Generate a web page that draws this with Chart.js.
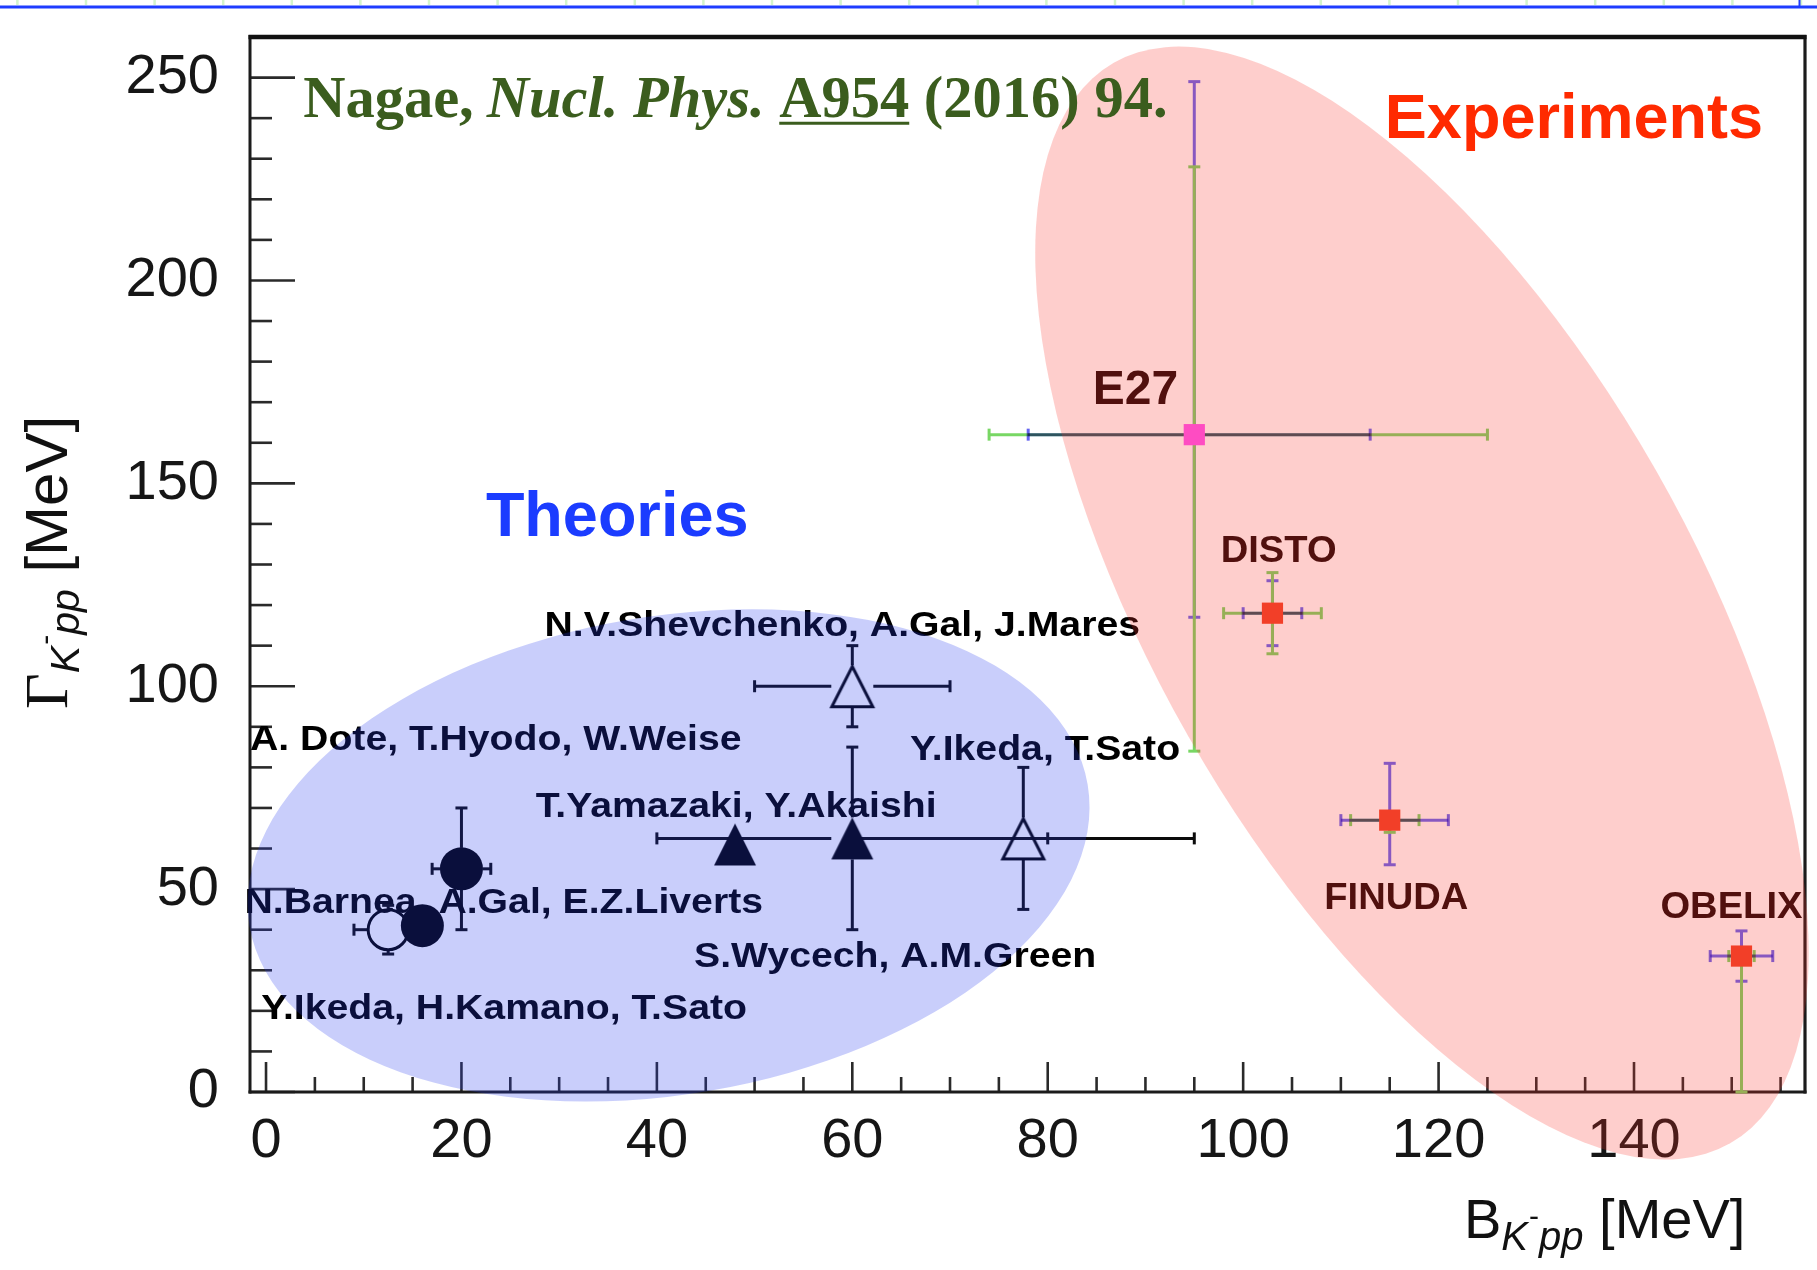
<!DOCTYPE html>
<html>
<head>
<meta charset="utf-8">
<title>K-pp binding energy and width</title>
<script src="https://cdn.jsdelivr.net/npm/chart.js@4.4.1/dist/chart.umd.min.js"></script>
<style>
  html, body { margin: 0; padding: 0; background: #ffffff; }
  canvas { display: block; }
</style>
</head>
<body>
<canvas id="chart" width="1817" height="1270"></canvas>
<script>
// ---- axis ranges and tick values (MeV) ----
const xRange = [-1.64, 157.5];
const yRange = [0, 260];
const xTickValues = [0, 20, 40, 60, 80, 100, 120, 140];
const yTickValues = [0, 50, 100, 150, 200, 250];
const xMinorStep = 5;
const yMinorStep = 10;

// ---- theoretical predictions: binding energy B, width Gamma, half-ranges ----
const theoryNames = ['A. Dote, T.Hyodo, W.Weise', 'N.Barnea, A.Gal, E.Z.Liverts', 'Y.Ikeda, H.Kamano, T.Sato',
                     'T.Yamazaki, Y.Akaishi', 'S.Wycech, A.M.Green', 'N.V.Shevchenko, A.Gal, J.Mares', 'Y.Ikeda, T.Sato'];
const theoryB        = [20, 16, 12.5, 48, 60, 60, 77.5];
const theoryGamma    = [55, 41, 40, 61, 62.5, 100, 62.5];
const theoryBErr     = [3, 0, 3.5, 0, 20, 10, 17.5];
const theoryGammaErr = [15, 0, 6, 0, 22.5, 10, 17.5];
const theoryMarker   = ['filledCircle', 'filledCircle', 'openCircle', 'filledTriangle', 'filledTriangle', 'openTriangle', 'openTriangle'];

// ---- experimental results: central values, stat and syst errors (low / high) ----
const exptNames        = ['E27', 'DISTO', 'FINUDA', 'OBELIX'];
const exptB            = [95, 103, 115, 151];
const exptGamma        = [162, 118, 67, 33.5];
const exptBStatLo      = [17, 3, 5, 3.2];
const exptBStatHi      = [18, 3, 6, 3.2];
const exptBSystLo      = [21, 5, 4, 1.3];
const exptBSystHi      = [30, 5, 3, 1.3];
const exptGammaStatLo  = [45, 8, 11, 6.2];
const exptGammaStatHi  = [87, 8, 14, 6.2];
const exptGammaSystLo  = [78, 10, 3, 33.5];
const exptGammaSystHi  = [66, 10, 2, 0];

// ---- text annotations, anchored in axis units (left edge, baseline) ----
const theoryLabelPos = [
  { x: -1.64, y: 84.2 },  // Dote
  { x: -2.2,  y: 44.0 },  // Barnea
  { x: -0.5,  y: 18.0 },  // Ikeda, Kamano
  { x: 27.6,  y: 67.8 },  // Yamazaki
  { x: 43.8,  y: 30.8 },  // Wycech
  { x: 28.5,  y: 112.5 }, // Shevchenko
  { x: 65.9,  y: 81.7 }   // Ikeda, Sato
];
const exptLabelPos = [
  { x: 84.6,  y: 169.6 }, // E27
  { x: 97.7,  y: 130.7 }, // DISTO
  { x: 108.3, y: 45.0 },  // FINUDA
  { x: 142.7, y: 42.8 }   // OBELIX
];

// shaded groupings (centre in axis units, radii in px, rotation in degrees)
const groupRegions = [
  { cx: 41.2,  cy: 58.3,  rx: 425, ry: 239, rot: -9.6, fill: 'rgba(40,60,240,0.25)' },
  { cx: 118.3, cy: 120.5, rx: 622, ry: 269, rot: 60.3, fill: 'rgba(250,50,40,0.24)' }
];

const SANS = '"Liberation Sans", Arial, Helvetica, sans-serif';
const SERIF = '"Liberation Serif", "Times New Roman", serif';

// ---- marker images for ROOT-like triangles (centred on their bounding box) ----
function triangleImage(size, filled, lw) {
  const pad = 3;
  const cv = document.createElement('canvas');
  cv.width = size + 2 * pad;
  cv.height = size + 2 * pad;
  const g = cv.getContext('2d');
  const s = size / 2, cx = cv.width / 2, cy = cv.height / 2;
  const inset = filled ? 0 : lw / 2;
  g.beginPath();
  g.moveTo(cx - s + inset, cy + s - inset);
  g.lineTo(cx + s - inset, cy + s - inset);
  g.lineTo(cx, cy - s + inset * 1.6);
  g.closePath();
  if (filled) { g.fillStyle = '#000'; g.fill(); }
  else { g.strokeStyle = '#000'; g.lineWidth = lw; g.lineJoin = 'miter'; g.stroke(); }
  return cv;
}
const triFilled = triangleImage(42, true, 0);
const triOpen = triangleImage(44, false, 3);

function theoryPoints(kind) {
  const pts = [];
  theoryB.forEach((b, i) => { if (theoryMarker[i] === kind) pts.push({ x: b, y: theoryGamma[i] }); });
  return pts;
}
const exptPoint = i => [{ x: exptB[i], y: exptGamma[i] }];

// ---- helpers ----
function seg(ctx, x1, y1, x2, y2) {
  ctx.beginPath(); ctx.moveTo(x1, y1); ctx.lineTo(x2, y2); ctx.stroke();
}
function drawRich(ctx, x, y, parts) {
  let cx = x;
  for (const p of parts) {
    ctx.font = p.font;
    ctx.fillStyle = p.color || ctx.fillStyle;
    const w = ctx.measureText(p.text).width;
    ctx.fillText(p.text, cx, y + (p.dy || 0));
    if (p.underline) {
      ctx.save();
      ctx.strokeStyle = p.color || ctx.fillStyle;
      ctx.lineWidth = p.underline.width;
      seg(ctx, cx, y + p.underline.offset, cx + w, y + p.underline.offset);
      ctx.restore();
    }
    cx += w + (p.gap || 0);
  }
  return cx - x;
}
function stretchedText(ctx, text, x, y, sx) {
  ctx.save();
  ctx.translate(x, y);
  ctx.scale(sx, 1);
  ctx.fillText(text, 0, 0);
  ctx.restore();
}

// ---- plugin: axis frame and inward ticks ----
const framePlugin = {
  id: 'frame',
  beforeDatasetsDraw(chart) {
    const { ctx, chartArea: a, scales: { x, y } } = chart;
    ctx.save();
    ctx.strokeStyle = '#2a2a2a';
    ctx.lineWidth = 2.6;
    // bottom axis ticks
    const xStart = Math.ceil(xRange[0] / xMinorStep), xEnd = Math.floor(xRange[1] / xMinorStep);
    for (let k = xStart; k <= xEnd; k++) {
      const v = k * xMinorStep;
      const px = x.getPixelForValue(v);
      const len = xTickValues.includes(v) ? 30 : 15;
      seg(ctx, px, a.bottom, px, a.bottom - len);
    }
    // left axis ticks
    const yStart = Math.ceil(yRange[0] / yMinorStep), yEnd = Math.floor(yRange[1] / yMinorStep);
    for (let k = yStart; k <= yEnd; k++) {
      const v = k * yMinorStep;
      const py = y.getPixelForValue(v);
      const len = yTickValues.includes(v) ? 45 : 22;
      seg(ctx, a.left, py, a.left + len, py);
    }
    // frame
    ctx.strokeStyle = '#1b1b1b';
    ctx.lineWidth = 3;
    seg(ctx, a.left, a.top - 2, a.left, a.bottom + 1.5);
    seg(ctx, a.left - 1.5, a.bottom, a.right + 1.5, a.bottom);
    ctx.lineWidth = 3.2;
    seg(ctx, a.right, a.top - 2, a.right, a.bottom + 1.5);
    ctx.strokeStyle = '#111';
    ctx.lineWidth = 4.5;
    seg(ctx, a.left - 1.5, a.top, a.right + 1.5, a.top);
    ctx.restore();
  }
};

// ---- plugin: error bars for theory ranges and experimental stat/syst errors ----
const errorBarPlugin = {
  id: 'errorBars',
  beforeDatasetsDraw(chart) {
    const { ctx, scales: { x, y } } = chart;
    const cap = 6;
    ctx.save();
    ctx.lineCap = 'butt';

    // theory: black bars that stop at the marker edge
    ctx.strokeStyle = '#0b0b0b';
    ctx.lineWidth = 3;
    const gap = 21;
    theoryB.forEach((b, i) => {
      const px = x.getPixelForValue(b), py = y.getPixelForValue(theoryGamma[i]);
      const ex = theoryBErr[i], ey = theoryGammaErr[i];
      if (ex > 0) {
        const l = x.getPixelForValue(b - ex), r = x.getPixelForValue(b + ex);
        if (px - l > gap) { seg(ctx, l, py, px - gap, py); seg(ctx, l, py - cap, l, py + cap); }
        if (r - px > gap) { seg(ctx, px + gap, py, r, py); seg(ctx, r, py - cap, r, py + cap); }
      }
      if (ey > 0) {
        const t = y.getPixelForValue(theoryGamma[i] + ey), btm = y.getPixelForValue(theoryGamma[i] - ey);
        if (py - t > gap) { seg(ctx, px, t, px, py - gap); seg(ctx, px - cap, t, px + cap, t); }
        if (btm - py > gap) { seg(ctx, px, py + gap, px, btm); seg(ctx, px - cap, btm, px + cap, btm); }
      }
    });

    // experiments: statistical (violet) and systematic (green)
    const statColor = 'rgb(100,100,240)';
    const systColor = 'rgb(120,215,100)';
    ctx.lineWidth = 3;
    exptB.forEach((b, i) => {
      const g = exptGamma[i];
      const px = x.getPixelForValue(b), py = y.getPixelForValue(g);
      const vbar = (lo, hi, color) => {
        const t = y.getPixelForValue(g + hi), btm = y.getPixelForValue(g - lo);
        ctx.strokeStyle = color;
        seg(ctx, px, t, px, btm);
        if (hi > 0) seg(ctx, px - cap, t, px + cap, t);
        if (lo > 0) seg(ctx, px - cap, btm, px + cap, btm);
      };
      const hbar = (lo, hi, color) => {
        const l = x.getPixelForValue(b - lo), r = x.getPixelForValue(b + hi);
        ctx.strokeStyle = color;
        seg(ctx, l, py, r, py);
        seg(ctx, l, py - cap, l, py + cap);
        seg(ctx, r, py - cap, r, py + cap);
      };
      vbar(exptGammaStatLo[i], exptGammaStatHi[i], statColor);
      vbar(exptGammaSystLo[i], exptGammaSystHi[i], systColor);
      hbar(exptBSystLo[i], exptBSystHi[i], systColor);
      ctx.save();
      ctx.globalCompositeOperation = 'multiply';
      hbar(exptBStatLo[i], exptBStatHi[i], statColor);
      ctx.restore();
    });
    ctx.restore();
  }
};

// ---- plugin: names, shaded groupings, headings, axis titles ----
const overlayPlugin = {
  id: 'overlay',
  afterDatasetsDraw(chart) {
    const { ctx, scales: { x, y } } = chart;
    ctx.save();
    ctx.textBaseline = 'alphabetic';
    ctx.textAlign = 'left';

    // theory author labels
    ctx.fillStyle = '#000';
    ctx.font = 'bold 35px ' + SANS;
    theoryNames.forEach((name, i) => {
      const p = theoryLabelPos[i];
      stretchedText(ctx, name, x.getPixelForValue(p.x), y.getPixelForValue(p.y), 1.12);
    });
    // experiment labels
    ctx.fillStyle = '#1c0606';
    exptNames.forEach((name, i) => {
      const p = exptLabelPos[i];
      ctx.font = (i === 0 ? 'bold 48px ' : 'bold 36px ') + SANS;
      stretchedText(ctx, name, x.getPixelForValue(p.x), y.getPixelForValue(p.y), i === 0 ? 1.0 : 1.06);
    });

    // translucent groupings laid over everything drawn so far
    groupRegions.forEach(r => {
      ctx.beginPath();
      ctx.ellipse(x.getPixelForValue(r.cx), y.getPixelForValue(r.cy), r.rx, r.ry, r.rot * Math.PI / 180, 0, 2 * Math.PI);
      ctx.fillStyle = r.fill;
      ctx.fill();
    });

    // headings
    ctx.font = 'bold 63px ' + SANS;
    ctx.fillStyle = '#1b3cff';
    ctx.fillText('Theories', x.getPixelForValue(22.5), y.getPixelForValue(137.0));
    ctx.fillStyle = '#ff2a00';
    ctx.fillText('Experiments', x.getPixelForValue(114.5), y.getPixelForValue(235.1));

    // reference
    const green = '#3b5d1e';
    const f = '58.5px ' + SERIF;
    drawRich(ctx, x.getPixelForValue(3.8), y.getPixelForValue(240.2), [
      { text: 'Nagae,', font: 'bold ' + f, color: green, gap: 13 },
      { text: 'Nucl. Phys.', font: 'italic bold ' + f, color: green },
      { text: ' ', font: 'bold ' + f, color: green },
      { text: 'A954', font: 'bold ' + f, color: green, underline: { offset: 6, width: 3 } },
      { text: ' (2016) 94.', font: 'bold ' + f, color: green }
    ]);
    ctx.restore();
  },
  afterDraw(chart) {
    const { ctx } = chart;
    ctx.save();
    ctx.fillStyle = '#111';
    ctx.textBaseline = 'alphabetic';
    ctx.textAlign = 'left';
    // x-axis title
    drawRich(ctx, 1464, 1238, [
      { text: 'B', font: '56px ' + SANS },
      { text: 'K', font: 'italic 40px ' + SANS, dy: 12, gap: 1 },
      { text: '-', font: '30px ' + SANS, dy: -12, gap: 0 },
      { text: 'pp', font: 'italic 40px ' + SANS, dy: 12 },
      { text: ' [MeV]', font: '56px ' + SANS }
    ]);
    // y-axis title
    ctx.translate(67, 709);
    ctx.rotate(-Math.PI / 2);
    drawRich(ctx, 0, 0, [
      { text: '\u0393', font: '62px ' + SERIF },
      { text: 'K', font: 'italic 41px ' + SANS, dy: 12, gap: 1 },
      { text: '-', font: '30px ' + SANS, dy: -12, gap: 0 },
      { text: 'pp', font: 'italic 41px ' + SANS, dy: 12 },
      { text: ' [MeV]', font: '60px ' + SANS }
    ]);
    ctx.restore();

    // page rule along the top edge
    ctx.save();
    ctx.strokeStyle = '#d4f5cc';
    ctx.lineWidth = 2.5;
    for (let k = 0; k < 27; k++) {
      const gx = 17.4 + k * 68.6;
      seg(ctx, gx, 0, gx, 5);
    }
    ctx.strokeStyle = '#1f3cff';
    ctx.lineWidth = 3;
    seg(ctx, 0, 7, 1817, 7);
    ctx.lineWidth = 2;
    seg(ctx, 1799.5, 0, 1799.5, 7);
    ctx.restore();
  }
};

const tickFont = { family: SANS, size: 56 };

new Chart(document.getElementById('chart'), {
  type: 'scatter',
  data: {
    datasets: [
      { label: 'theory (filled circle)', data: theoryPoints('filledCircle'), pointStyle: 'circle',
        pointRadius: 21.5, pointBackgroundColor: '#000', pointBorderWidth: 0 },
      { label: 'theory (open circle)', data: theoryPoints('openCircle'), pointStyle: 'circle',
        pointRadius: 20, pointBackgroundColor: 'rgba(0,0,0,0)', pointBorderColor: '#000', pointBorderWidth: 3 },
      { label: 'theory (filled triangle)', data: theoryPoints('filledTriangle'), pointStyle: triFilled,
        pointRadius: 21 },
      { label: 'theory (open triangle)', data: theoryPoints('openTriangle'), pointStyle: triOpen,
        pointRadius: 21 },
      { label: exptNames[0], data: exptPoint(0), pointStyle: 'rect', pointRadius: 15,
        pointBackgroundColor: '#ff55f2', pointBorderWidth: 0 },
      { label: exptNames[1], data: exptPoint(1), pointStyle: 'rect', pointRadius: 15,
        pointBackgroundColor: '#f04428', pointBorderWidth: 0 },
      { label: exptNames[2], data: exptPoint(2), pointStyle: 'rect', pointRadius: 15,
        pointBackgroundColor: '#f04428', pointBorderWidth: 0 },
      { label: exptNames[3], data: exptPoint(3), pointStyle: 'rect', pointRadius: 15,
        pointBackgroundColor: '#f04428', pointBorderWidth: 0 }
    ]
  },
  options: {
    responsive: false,
    devicePixelRatio: 1,
    animation: false,
    events: [],
    layout: { autoPadding: false, padding: { top: 37, right: 12, left: 0, bottom: 0 } },
    plugins: { legend: { display: false }, tooltip: { enabled: false } },
    scales: {
      x: {
        type: 'linear', min: xRange[0], max: xRange[1],
        afterBuildTicks: s => { s.ticks = xTickValues.map(v => ({ value: v })); },
        afterFit: s => { s.height = 1270 - 1092; s.paddingLeft = 0; s.paddingRight = 0; },
        grid: { display: false, drawTicks: false },
        border: { display: false },
        ticks: { font: tickFont, color: '#161616', padding: 16, maxRotation: 0, autoSkip: false,
                 callback: v => String(v) }
      },
      y: {
        type: 'linear', min: yRange[0], max: yRange[1],
        afterBuildTicks: s => { s.ticks = yTickValues.map(v => ({ value: v })); },
        afterFit: s => { s.width = 250; s.paddingTop = 0; s.paddingBottom = 0; },
        grid: { display: false, drawTicks: false },
        border: { display: false },
        ticks: { font: tickFont, color: '#161616', padding: 31, autoSkip: false,
                 callback: v => String(v) }
      }
    }
  },
  plugins: [framePlugin, errorBarPlugin, overlayPlugin]
});
</script>
</body>
</html>
